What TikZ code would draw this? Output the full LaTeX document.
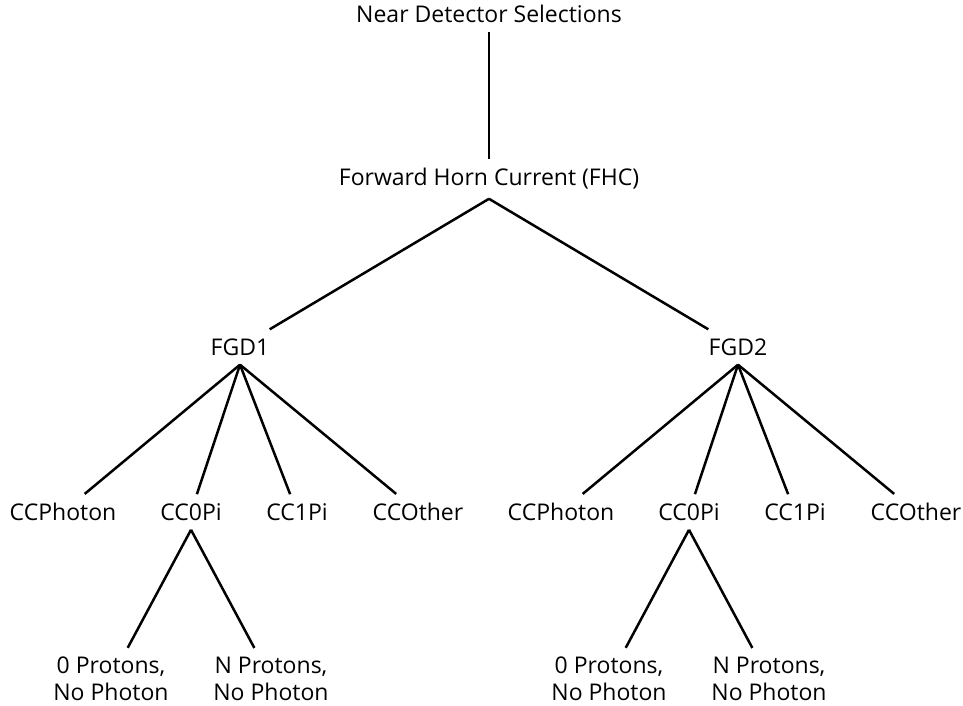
\documentclass[tikz,border=0pt]{standalone}
\usepackage{fontspec}
\setmainfont{Open Sans}
\usetikzlibrary{positioning}
\tikzset{sel/.style={inner sep=8pt, align=center, font=\fontsize{23}{27}\selectfont}}

\begin{document}
\begin{tikzpicture}[x=1pt,y=-1pt,line width=2.5pt]
	\useasboundingbox (0,0) rectangle (963,706);
	\node[sel] (nd) at (489,14){Near Detector Selections};
	\node[sel] (fhc) at (489,179){Forward Horn Current (FHC)};
	\draw (nd) -- (fhc);
	% one branch per detector
	\foreach \det/\dx in {1/0,2/498}{
		\node[sel] (fgd\det) at (240+\dx,347){FGD\det};
		\node[sel] (ph\det) at (63+\dx,512){CCPhoton};%photon
		\node[sel] (zpi\det) at (191+\dx,512){CC0Pi};%0pi
		\node[sel] (opi\det) at (297+\dx,512){CC1Pi};%1pi
		\node[sel] (oth\det) at (418+\dx,512){CCOther};%other
		\node[sel] (zp\det) at (111+\dx,679){0 Protons,\\No Photon};
		\node[sel] (np\det) at (271+\dx,679){N Protons,\\No Photon};
		\draw (fhc.south) -- (fgd\det);
		\draw (fgd\det.south) -- (ph\det);
		\draw (fgd\det.south) -- (zpi\det);
		\draw (fgd\det.south) -- (opi\det);
		\draw (fgd\det.south) -- (oth\det);
		\draw (zpi\det.south) -- (zp\det);
		\draw (zpi\det.south) -- (np\det);
	}
\end{tikzpicture}
\end{document}
